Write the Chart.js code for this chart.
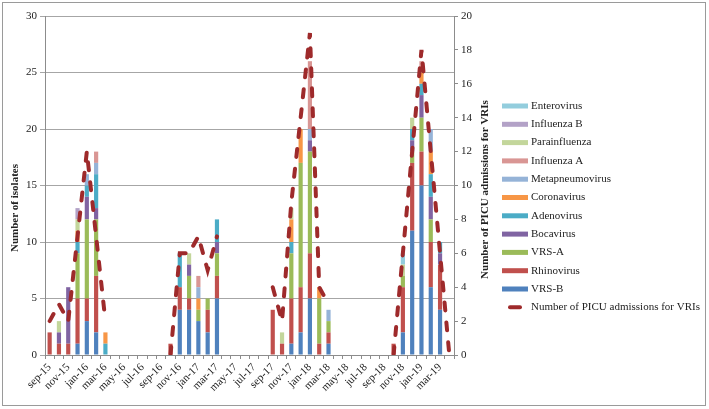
<!DOCTYPE html>
<html>
<head>
<meta charset="utf-8">
<script src="https://cdn.jsdelivr.net/npm/chart.js@4.4.1/dist/chart.umd.min.js"></script>
<style>
body { margin:0; background:#fff; }
#wrap { position:relative; width:709px; height:409px; }
#frame { position:absolute; left:2px; top:2px; width:702px; height:402px; border:1px solid #9a9a9a; pointer-events:none; }
</style>
</head>
<body>
<div id="wrap">
<canvas id="virusChart" width="709" height="409"></canvas>
<div id="frame"></div>
</div>
<script>
// months sep-15 .. apr-19
const months = [
"sep-15","oct-15","nov-15","dec-15","jan-16","feb-16","mar-16","apr-16","may-16","jun-16","jul-16","aug-16",
"sep-16","oct-16","nov-16","dec-16","jan-17","feb-17","mar-17","apr-17","may-17","jun-17","jul-17","aug-17",
"sep-17","oct-17","nov-17","dec-17","jan-18","feb-18","mar-18","apr-18","may-18","jun-18","jul-18","aug-18",
"sep-18","oct-18","nov-18","dec-18","jan-19","feb-19","mar-19","apr-19"];

const leftTicks = [0,5,10,15,20,25,30];
const rightTicks = [0,2,4,6,8,10,12,14,16,18,20];

// isolates per month (bottom of stack first)
const vrsB =      [0,0,0,1,3,2,0,0,0,0,0,0, 0,0,4,4,3,2,5,0,0,0,0,0, 0,0,1,2,5,0,1,0,0,0,0,0, 0,0,2,11,15,6,4,0];
const rhino =     [2,1,1,4,2,5,0,0,0,0,0,0, 0,1,2,1,0,2,2,0,0,0,0,0, 4,1,4,4,4,1,1,0,0,0,0,0, 0,1,4,6,3,4,4,0];
const vrsA =      [0,0,0,4,7,5,0,0,0,0,0,0, 0,0,0,2,1,1,2,0,0,0,0,0, 0,0,4,11,9,4,1,0,0,0,0,0, 0,0,1,1,3,2,0,0];
const boca =      [0,1,5,0,2,1,0,0,0,0,0,0, 0,0,0,1,0,0,1,0,0,0,0,0, 0,0,0,0,1,0,0,0,0,0,0,0, 0,0,0,1,2,2,1,0];
const adeno =     [0,0,0,1,1,3,1,0,0,0,0,0, 0,0,3,0,0,0,2,0,0,0,0,0, 0,0,1,0,0,0,0,0,0,0,0,0, 0,0,0,1,1,2,1,0];
const corona =    [0,0,0,1,0,0,1,0,0,0,0,0, 0,0,0,0,1,0,0,0,0,0,0,0, 0,0,2,3,0,1,0,0,0,0,0,0, 0,0,0,0,1,2,0,0];
const metapneumo =[0,0,0,0,1,1,0,0,0,0,0,0, 0,0,0,0,1,0,0,0,0,0,0,0, 0,0,0,0,1,0,1,0,0,0,0,0, 0,0,0,0,0,2,0,0];
const fluA =      [0,0,0,0,0,1,0,0,0,0,0,0, 0,0,0,0,1,0,0,0,0,0,0,0, 0,0,0,0,6,0,0,0,0,0,0,0, 0,0,0,0,1,0,0,0];
const parainflu = [0,1,0,1,0,0,0,0,0,0,0,0, 0,0,0,1,0,0,0,0,0,0,0,0, 0,1,1,0,0,0,0,0,0,0,0,0, 0,0,1,1,0,0,0,0];
const fluB =      [0,0,0,1,0,0,0,0,0,0,0,0, 0,0,0,0,0,0,0,0,0,0,0,0, 0,0,0,0,0,0,0,0,0,0,0,0, 0,0,0,0,0,0,0,0];
const entero =    [0,0,0,0,0,0,0,0,0,0,0,0, 0,0,0,0,0,0,0,0,0,0,0,0, 0,0,0,0,0,0,0,0,0,0,0,0, 0,0,1,0,0,0,0,0];

// PICU admissions for VRIs (right axis), gaps between seasons
const picu = [2,3,2,7,12,7,2,null,null,null,null,null,
null,0,6,6,7,5,7,null,null,null,null,null,
4,2,9,14,19,4,3,null,null,null,null,null,
null,0,6,12,18,12,6,0];

const serif = "'Liberation Serif', 'DejaVu Serif', serif";
const lineColor = "#9e2a2b";
const lineLabel = "Number of PICU admissions for VRIs";

const bars = [
    {label:"VRS-B", data:vrsB, color:"#4f81bd"},
    {label:"Rhinovirus", data:rhino, color:"#c0504d"},
    {label:"VRS-A", data:vrsA, color:"#9bbb59"},
    {label:"Bocavirus", data:boca, color:"#8064a2"},
    {label:"Adenovirus", data:adeno, color:"#4bacc6"},
    {label:"Coronavirus", data:corona, color:"#f79646"},
    {label:"Metapneumovirus", data:metapneumo, color:"#95b3d7"},
    {label:"Influenza A", data:fluA, color:"#d99694"},
    {label:"Parainfluenza", data:parainflu, color:"#c3d69b"},
    {label:"Influenza B", data:fluB, color:"#b3a2c7"},
    {label:"Enterovirus", data:entero, color:"#93cddd"}
];

let datasets = [{
    type:'line',
    label:lineLabel,
    data:picu,
    yAxisID:'y1',
    borderColor:lineColor,
    borderWidth:4,
    borderDash:[8,12],
    borderCapStyle:'round',
    pointRadius:0,
    tension:0,
    spanGaps:false
}];

bars.forEach(b => {
    datasets.push({
        type:'bar',
        label:b.label,
        data:b.data,
        backgroundColor:b.color,
        yAxisID:'y',
        stack:'isolates',
        barPercentage:0.45,
        categoryPercentage:1
    });
});

// both axis titles read bottom to top
function drawVertical(ctx, text, x, y){
    ctx.save();
    ctx.translate(x, y);
    ctx.rotate(-Math.PI / 2);
    ctx.font = "bold 11px " + serif;
    ctx.fillStyle = "#222";
    ctx.textAlign = "center";
    ctx.textBaseline = "middle";
    ctx.fillText(text, 0, 0);
    ctx.restore();
}

const axisTitles = {
    id:'axisTitles',
    afterDraw(chart){
        const s = chart.scales.y1;
        drawVertical(chart.ctx, "Number of isolates", 15, 208);
        drawVertical(chart.ctx, lineLabel, s.right - 10, (s.top + s.bottom) / 2 + 4);
    }
};

// legend: top row is the last bar series, line item at the bottom
const sideLegend = {
    id:'sideLegend',
    afterDraw(chart){
        const ctx = chart.ctx;
        const x0 = 502, y0 = 106, step = 18.3;
        ctx.save();
        ctx.font = "11px " + serif;
        ctx.textBaseline = "middle";
        ctx.textAlign = "left";
        let row = 0;
        for (let i = bars.length - 1; i >= 0; i--) {
            const y = y0 + row * step;
            ctx.fillStyle = bars[i].color;
            ctx.fillRect(x0, y - 2.5, 26, 5);
            ctx.fillStyle = "#222";
            ctx.fillText(bars[i].label, x0 + 29, y);
            row++;
        }
        const y = y0 + row * step;
        ctx.strokeStyle = lineColor;
        ctx.lineWidth = 4;
        ctx.lineCap = "round";
        ctx.beginPath();
        ctx.moveTo(x0 + 8, y);
        ctx.lineTo(x0 + 18, y);
        ctx.stroke();
        ctx.fillStyle = "#222";
        ctx.fillText(lineLabel, x0 + 29, y);
        ctx.restore();
    }
};

new Chart(
    document.getElementById('virusChart'),
    {
        type:'bar',
        data:{
            labels:months,
            datasets:datasets
        },
        options:{
            responsive:false,
            animation:false,
            devicePixelRatio:1,
            layout:{ padding:{ left:2, top:16, right:214, bottom:12 } },
            plugins:{
                tooltip:{ enabled:false },
                legend:{ display:false }
            },
            scales:{
                x:{
                    offset:true,
                    grid:{ drawOnChartArea:false, offset:true, tickLength:4, color:'#8c8c8c' },
                    border:{ color:'#8c8c8c' },
                    ticks:{
                        autoSkip:false,
                        minRotation:45,
                        maxRotation:45,
                        padding:2,
                        color:'#222',
                        font:{ family:serif, size:11 },
                        callback:(v, i) => i % 2 === 0 ? months[i] : ''
                    },
                    afterFit:s => { s.height = 42; }
                },
                y:{
                    position:'left',
                    stacked:true,
                    min:0,
                    max:30,
                    afterBuildTicks:s => { s.ticks = leftTicks.map(v => ({value:v})); },
                    grid:{ color:'#a6a6a6', tickLength:5 },
                    border:{ color:'#8c8c8c' },
                    ticks:{ padding:3, color:'#222', font:{ family:serif, size:11 } },
                    afterFit:s => { s.width = 43; }
                },
                y1:{
                    position:'right',
                    min:0,
                    max:20,
                    afterBuildTicks:s => { s.ticks = rightTicks.map(v => ({value:v})); },
                    grid:{ drawOnChartArea:false, tickLength:4, color:'#8c8c8c' },
                    border:{ color:'#8c8c8c' },
                    ticks:{ padding:3, color:'#222', font:{ family:serif, size:11 } },
                    afterFit:s => { s.width = 41; }
                }
            }
        },
        plugins:[axisTitles, sideLegend]
    }
);
</script>
</body>
</html>
